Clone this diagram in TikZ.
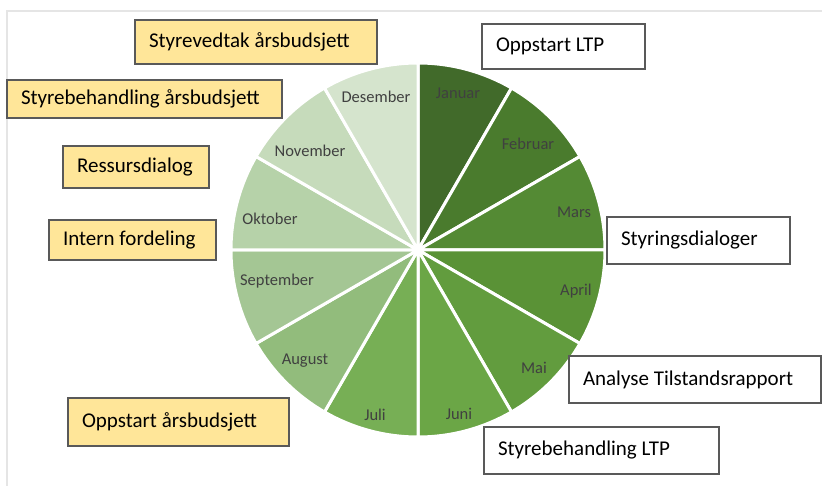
\documentclass[tikz,border=0pt]{standalone}
\usepackage{fontspec}
\setmainfont{Carlito}
\definecolor{jan}{HTML}{416A2A}
\definecolor{feb}{HTML}{4A7B2D}
\definecolor{mar}{HTML}{548A34}
\definecolor{apr}{HTML}{5A9236}
\definecolor{mai}{HTML}{629C3E}
\definecolor{jun}{HTML}{6BA646}
\definecolor{jul}{HTML}{77AF55}
\definecolor{aug}{HTML}{92BC7C}
\definecolor{sep}{HTML}{A4C694}
\definecolor{okt}{HTML}{B6D2A9}
\definecolor{nov}{HTML}{C6DBBB}
\definecolor{des}{HTML}{D5E4CD}
\definecolor{gul}{HTML}{FFE699}
\definecolor{kant}{HTML}{595959}
\definecolor{mtekst}{HTML}{404040}
\begin{document}
\begin{tikzpicture}[x=1pt,y=-1pt,
  taskbox/.style={draw=kant, line width=1.2pt, inner xsep=14pt, inner ysep=0pt,
    text width=#1, align=flush left, font=\fontsize{21}{24}\selectfont},
  yellowbox/.style={taskbox=#1, fill=gul},
  whitebox/.style={taskbox=#1, fill=white},
  monthlbl/.style={text=mtekst, inner sep=0pt, font=\fontsize{16.5}{18}\selectfont}]
\useasboundingbox (0,0) rectangle (822,486);
\fill[white] (0,0) rectangle (822,486);
% frame
\draw[black!10, line width=1.5pt] (7,486) -- (7,11) -- (822,11);
% pie
\coordinate (hub) at (418,250);
\foreach \i/\c in {0/jan,1/feb,2/mar,3/apr,4/mai,5/jun,6/jul,7/aug,8/sep,9/okt,10/nov,11/des}{
  \pgfmathsetmacro\a{-90+30*\i}
  \filldraw[fill=\c, draw=white, line width=3pt, line join=round]
    (hub) -- ++(\a:187) arc[start angle=\a, end angle=\a+30, radius=187] -- cycle;
}
\foreach \m/\x/\y in {Januar/458/93, Februar/528/144, Mars/574/212, April/576/291,
  Mai/534/368, Juni/459/414, Juli/375/415, August/305/361, September/277/281,
  Oktober/270/219, November/310/151, Desember/376/97}
  \node[monthlbl] (m-\m) at (\x,\y) {\m};
% yellow tasks
\node[yellowbox=214, minimum height=44] (vedtak) at (256,42) {Styrevedtak årsbudsjett};
\node[yellowbox=247, minimum height=38] (styrebeh) at (144.5,99) {Styrebehandling årsbudsjett};
\node[yellowbox=118, minimum height=42] (ressurs) at (136,167) {Ressursdialog};
\node[yellowbox=139, minimum height=40] (intern) at (132.5,240) {Intern fordeling};
\node[yellowbox=193, minimum height=48] (oppaars) at (178.5,422) {Oppstart årsbudsjett};
% white tasks
\node[whitebox=135, minimum height=45] (oppltp) at (563.5,46.5) {Oppstart LTP};
\node[whitebox=155, minimum height=47] (styring) at (698.5,240.5) {Styringsdialoger};
\node[whitebox=224, minimum height=47] (analyse) at (695,379.5) {Analyse Tilstandsrapport};
\node[whitebox=207, minimum height=47] (styreltp) at (601.5,450.5) {Styrebehandling LTP};
\end{tikzpicture}
\end{document}
